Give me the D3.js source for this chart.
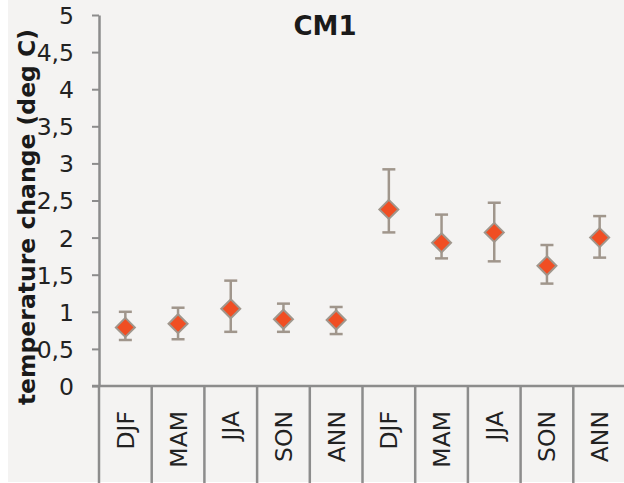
<!DOCTYPE html>
<html><head><meta charset="utf-8">
<script src="https://cdn.jsdelivr.net/npm/d3@7"></script>
<style>
html,body{margin:0;padding:0;background:#fff;}
svg{display:block;}
</style></head>
<body>
<svg id="chart" width="624" height="483"></svg>
<script>
const categories = ["DJF","MAM","JJA","SON","ANN","DJF","MAM","JJA","SON","ANN"];
const values = [0.79, 0.84, 1.04, 0.90, 0.89, 2.38, 1.93, 2.07, 1.62, 2.00];
const errLow = [0.62, 0.63, 0.73, 0.73, 0.70, 2.07, 1.72, 1.68, 1.38, 1.73];
const errHigh = [1.00, 1.055, 1.42, 1.11, 1.065, 2.92, 2.31, 2.47, 1.90, 2.29];
const yTicks = [0,0.5,1,1.5,2,2.5,3,3.5,4,4.5,5];
const yTickLabels = ["0","0,5","1","1,5","2","2,5","3","3,5","4","4,5","5"];
const title = "CM1";
const yTitle = "temperature change (deg C)";

const svg = d3.select("#chart");
const W = 624, H = 483;
const font = "Verdana, 'DejaVu Sans', sans-serif";
const axisColor = "#8c8c8c";

svg.append("rect").attr("x",8).attr("y",0).attr("width",W-8).attr("height",H-1).attr("fill","#f4f3f2");

const x = d3.scaleBand().domain(d3.range(categories.length)).range([99, 99 + 52.7*categories.length]).padding(0);
const y = d3.scaleLinear().domain([0,5]).range([386, 15]);

// y axis
const yAxis = d3.axisLeft(y).tickValues(yTicks).tickSize(7).tickSizeOuter(0)
  .tickFormat((d,i)=>yTickLabels[i]);
const gy = svg.append("g").attr("transform","translate(99,0)").call(yAxis);
gy.select(".domain").attr("stroke",axisColor).attr("stroke-width",2.5);
gy.selectAll(".tick line").attr("stroke",axisColor).attr("stroke-width",2);
gy.selectAll(".tick text").attr("x",-25).attr("font-family",font).attr("font-size",23.5).attr("fill","#222").attr("dy","0.36em");

// x axis line
svg.append("line").attr("x1",92).attr("x2",W).attr("y1",y(0)).attr("y2",y(0))
  .attr("stroke",axisColor).attr("stroke-width",2.5);
// category boundaries
const bounds = d3.range(categories.length+1).map(i => i < categories.length ? x(i) : x(categories.length-1)+x.bandwidth());
svg.selectAll("line.cb").data(bounds).enter().append("line").attr("class","cb")
  .attr("x1",d=>d).attr("x2",d=>d).attr("y1",y(0)).attr("y2",H)
  .attr("stroke",axisColor).attr("stroke-width",2.5);
// category labels
svg.selectAll("text.cat").data(categories).enter().append("text").attr("class","cat")
  .attr("transform",(d,i)=>`translate(${x(i)+x.bandwidth()/2},411) rotate(-90)`)
  .attr("text-anchor","end").attr("dy","0.36em")
  .attr("font-family",font).attr("font-size",23.5).attr("fill","#222").text(d=>d);

// error bars
const errColor = "#a0968c";
const eg = svg.append("g");
categories.forEach((c,i)=>{
  const cx = x(i)+x.bandwidth()/2;
  eg.append("line").attr("x1",cx).attr("x2",cx).attr("y1",y(errLow[i])).attr("y2",y(errHigh[i])).attr("stroke",errColor).attr("stroke-width",2.5);
  [errLow[i],errHigh[i]].forEach(v=>{
    eg.append("line").attr("x1",cx-6.5).attr("x2",cx+6.5).attr("y1",y(v)).attr("y2",y(v)).attr("stroke",errColor).attr("stroke-width",2.5);
  });
});
// markers
svg.selectAll("path.pt").data(values).enter().append("path").attr("class","pt")
  .attr("d","M0,-9.5 L9.5,0 L0,9.5 L-9.5,0 Z")
  .attr("transform",(d,i)=>`translate(${x(i)+x.bandwidth()/2},${y(d)})`)
  .attr("fill","#f04e23").attr("stroke","#a0968c").attr("stroke-width",2);

// title
svg.append("text").attr("x",325).attr("y",35).attr("text-anchor","middle")
  .attr("font-family",font).attr("font-weight","bold").attr("font-size",26).attr("fill","#1a1a1a").text(title);
// y title
svg.append("text").attr("transform","translate(35,217) rotate(-90)").attr("text-anchor","middle")
  .attr("font-family",font).attr("font-weight","bold").attr("font-size",23.5).attr("fill","#1a1a1a").text(yTitle);
</script>
</body></html>
